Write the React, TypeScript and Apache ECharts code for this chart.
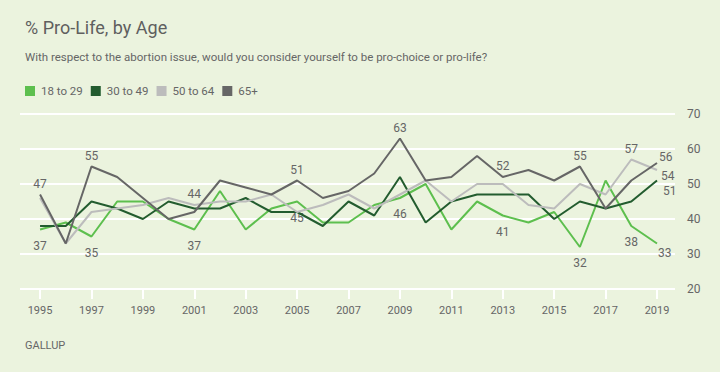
import React, { useEffect, useRef } from "react";
import * as echarts from "echarts";

const years = [1995, 1996, 1997, 1998, 1999, 2000, 2001, 2002, 2003, 2004, 2005, 2006, 2007, 2008, 2009, 2010, 2011, 2012, 2013, 2014, 2015, 2016, 2017, 2018, 2019];
const age18to29 = [37, 39, 35, 45, 45, 40, 37, 48, 37, 43, 45, 39, 39, 44, 46, 50, 37, 45, 41, 39, 42, 32, 51, 38, 33];
const age30to49 = [38, 38, 45, 43, 40, 45, 43, 43, 46, 42, 42, 38, 45, 41, 52, 39, 45, 47, 47, 47, 40, 45, 43, 45, 51];
const age50to64 = [46, 33, 42, 43, 44, 46, 44, 45, 45, 47, 42, 44, 47, 43, 47, 51, 45, 50, 50, 44, 43, 50, 47, 57, 54];
const age65plus = [47, 33, 55, 52, 46, 40, 42, 51, 49, 47, 51, 46, 48, 53, 63, 51, 52, 58, 52, 54, 51, 55, 43, 51, 56];
const xTickLabels = [1995, 1997, 1999, 2001, 2003, 2005, 2007, 2009, 2011, 2013, 2015, 2017, 2019];
const seriesNames = ["18 to 29", "30 to 49", "50 to 64", "65+"];

// which points carry a value label: [series index, year, placement]
const labelledPoints: [number, number, string][] = [
  [3, 1995, "top"], [0, 1995, "bottom"],
  [3, 1997, "top"], [0, 1997, "bottom"],
  [2, 2001, "top"], [0, 2001, "bottom"],
  [3, 2005, "top"], [0, 2005, "bottom"],
  [3, 2009, "top"], [0, 2009, "bottom"],
  [3, 2013, "top"], [0, 2013, "bottom"],
  [3, 2016, "top"], [0, 2016, "bottom"],
  [2, 2018, "top"], [0, 2018, "bottom"],
  [3, 2019, "end65"], [2, 2019, "end50"], [1, 2019, "end30"], [0, 2019, "end18"],
];

const COLORS = ["#5dbf4e", "#235c2f", "#bcbcbc", "#666666"];
const TEXT = "#666666";
const BG = "#ebf3de";
const FONT = "Roboto, 'Noto Sans', sans-serif";

function labelStyle(kind: string) {
  const base: any = { show: true, color: TEXT, fontSize: 12, fontFamily: FONT };
  const end = (dx: number, dy: number) => ({ ...base, position: [dx, dy], align: "left", verticalAlign: "middle" });
  switch (kind) {
    case "top": return { ...base, position: "top", distance: 5 };
    case "bottom": return { ...base, position: "bottom", distance: 10 };
    case "end65": return end(2, -6);
    case "end50": return end(4, 6);
    case "end30": return end(6, 10);
    case "end18": return end(1, 9);
  }
  return base;
}

export default function App() {
  const ref = useRef<HTMLDivElement>(null);
  useEffect(() => {
    document.body.style.margin = "0";
    document.body.style.background = BG;
    if (!ref.current) return;
    const chart = echarts.init(ref.current, null, { renderer: "svg" });
    const allValues = [age18to29, age30to49, age50to64, age65plus];
    const series = allValues.map((vals, si) => ({
      name: seriesNames[si],
      type: "line",
      symbol: "circle",
      symbolSize: 0,
      showSymbol: true,
      z: 2 + si,
      lineStyle: { color: COLORS[si], width: 2 },
      itemStyle: { color: COLORS[si] },
      data: vals.map((v, i) => {
        const lp = labelledPoints.find((p) => p[0] === si && p[1] === years[i]);
        const item: any = { value: [years[i], v] };
        if (lp) item.label = labelStyle(lp[2]);
        return item;
      }),
      label: { show: false },
      labelLayout: { hideOverlap: false },
      emphasis: { disabled: true },
    }));
    chart.setOption({
      animation: false,
      backgroundColor: BG,
      textStyle: { fontFamily: FONT },
      title: [
        { text: "% Pro-Life, by Age", left: 20, top: 13, textStyle: { fontSize: 18, fontWeight: "normal", color: "#5f5f5f", fontFamily: FONT } },
        { text: "With respect to the abortion issue, would you consider yourself to be pro-choice or pro-life?", left: 20, top: 46, textStyle: { fontSize: 11.5, fontWeight: "normal", color: "#666", fontFamily: FONT } },
        { text: "GALLUP", left: 20, top: 335, textStyle: { fontSize: 11, fontWeight: "normal", color: "#666", fontFamily: FONT, letterSpacing: 1 } as any },
      ],
      legend: {
        left: 20, top: 80, icon: "rect", itemWidth: 10, itemHeight: 10, itemGap: 8,
        textStyle: { color: TEXT, fontSize: 11.5, fontFamily: FONT, padding: [0, 0, 0, 1] },
        data: seriesNames, selectedMode: false,
      },
      grid: { left: 20, right: 45, top: 114, bottom: 83 },
      xAxis: {
        type: "value", min: 1994.22, max: 2019.7,
        axisLine: { show: false },
        splitLine: { show: false },
        axisTick: { show: true, length: 10, lineStyle: { color: "#ffffff", width: 2 }, customValues: xTickLabels },
        axisLabel: { color: TEXT, fontSize: 11, margin: 16, customValues: xTickLabels, formatter: (v: number) => String(v), fontFamily: FONT },
      },
      yAxis: {
        type: "value", position: "right", min: 20, max: 70, interval: 10,
        axisLine: { show: false }, axisTick: { show: false },
        splitLine: { lineStyle: { color: "#ffffff", width: 2 } },
        axisLabel: { color: TEXT, fontSize: 12, margin: 12, fontFamily: FONT },
      },
      series,
    });
    return () => chart.dispose();
  }, []);
  return <div ref={ref} style={{ width: 720, height: 372, background: BG }} />;
}
